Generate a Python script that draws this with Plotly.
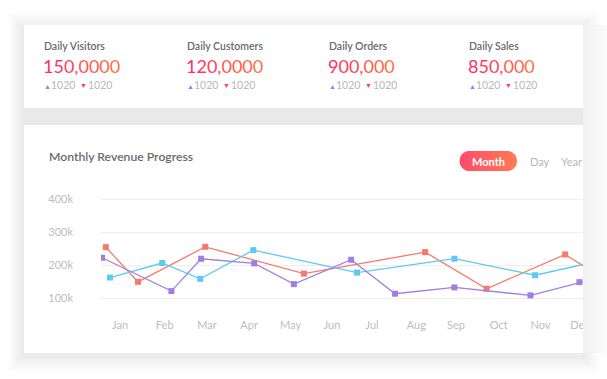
import math
import plotly.graph_objects as go

W, H = 607, 379

# ---------------- data ----------------
months = ["Jan", "Feb", "Mar", "Apr", "May", "Jun", "Jul", "Aug", "Sep", "Oct", "Nov", "Dec"]
month_pos = [0, 1.07, 2.08, 3.09, 4.08, 5.07, 6.03, 7.09, 8.04, 9.06, 10.06, 11.0]

red_x = [-0.34, 0.43, 2.04, 4.40, 7.30, 8.77, 10.65, 11.2]
red_y = [254, 149, 255, 174, 239, 128, 232, 188]
blue_x = [-0.24, 1.01, 1.92, 3.19, 5.67, 8.00, 9.93, 11.2]
blue_y = [162, 206, 158, 245, 177, 219, 169, 205]
purple_x = [-0.43, 1.23, 1.94, 3.21, 4.16, 5.53, 6.58, 8.00, 9.82, 10.99, 11.2]
purple_y = [222, 121, 219, 205, 142, 216, 113, 132, 108, 148, 153]

y_ticks = [100, 200, 300, 400]
y_tick_text = ["100k", "200k", "300k", "400k"]

stat_titles = ["Daily Visitors", "Daily Customers", "Daily Orders", "Daily Sales"]
stat_values = ["150,0000", "120,0000", "900,000", "850,000"]
stat_up = ["1020", "1020", "1020", "1020"]
stat_down = ["1020", "1020", "1020", "1020"]
chart_title = "Monthly Revenue Progress"
periods = ["Month", "Day", "Year"]

# ---------------- geometry ----------------
FONT = "Lato, 'Open Sans', sans-serif"
ML, MR, MT, MB = 101, 24, 192, 64
PW, PH = W - ML - MR, H - MT - MB
CL, CR = 24, 583


def fx(px):
    return (px - ML) / PW


def fy(py):
    return (H - MB - py) / PH


def lerp_color(c1, c2, t):
    a = [int(c1[i:i + 2], 16) for i in (1, 3, 5)]
    b = [int(c2[i:i + 2], 16) for i in (1, 3, 5)]
    return "#%02x%02x%02x" % tuple(round(a[k] + (b[k] - a[k]) * t) for k in range(3))


def grad_text(s, c1, c2):
    n = max(len(s) - 1, 1)
    return "".join('<span style="color:%s">%s</span>' % (lerp_color(c1, c2, i / n), ch)
                   for i, ch in enumerate(s))


shapes = []
annotations = []


def rect(x0, y0, x1, y1, color, layer="below"):
    shapes.append(dict(type="rect", xref="paper", yref="paper",
                       x0=fx(x0), x1=fx(x1), y0=fy(y1), y1=fy(y0),
                       fillcolor=color, line=dict(width=0), layer=layer))


def text(px, py, s, size, color, anchor="left", weight="normal"):
    annotations.append(dict(xref="paper", yref="paper", x=fx(px), y=fy(py),
                            text=s, showarrow=False, xanchor=anchor, yanchor="middle",
                            borderpad=0,
                            font=dict(family=FONT, size=size, color=color, weight=weight)))


# ---------------- cards & shadows ----------------
for i in range(1, 11):
    d = 1.6 * i
    rect(CL - d, 25 - d + 3, CR + d, 353 + d + 3, "rgba(0,0,0,0.006)")
rect(CL, 25, CR, 108, "#ffffff")
rect(CL, 108, CR, 125, "#e9e9e9")
rect(CL, 125, CR, 353, "#ffffff")

# right-hand fade (card clipped by the view)
strip = ["#f1f1f1", "#f3f3f3", "#f5f5f5", "#f7f7f7", "#f9f9f9", "#fbfbfb"]
for i, c in enumerate(strip):
    rect(CR + 4 * i, 25, CR + 4 * (i + 1), 353, c, layer="above")

# ---------------- stat header ----------------
col_x = [43, 186, 328, 468]
for cx, t, v, up, dn in zip(col_x, stat_titles, stat_values, stat_up, stat_down):
    text(cx, 46, t, 10.5, "#6a6a6a", weight=600)
    text(cx - 1, 66, grad_text(v, "#ff2f66", "#ff7043"), 18, "#ff4a5a")
    text(cx - 0.5, 86, "▲", 7, "#9c7be6")
    text(cx + 7, 85, up, 10.5, "#b8b8b8")
    text(cx + 35.5, 85, "▼", 7, "#ff3d6a")
    text(cx + 43.5, 85, dn, 10.5, "#b8b8b8")

# ---------------- chart header ----------------
text(48, 156, chart_title, 12.2, "#6a6a6a", weight=600)

# gradient pill for "Month"
px0, px1, py0, py1 = 459.5, 517.0, 151.0, 171.0
r = (py1 - py0) / 2
cy = (py0 + py1) / 2
c1x, c2x = px0 + r, px1 - r


def half_h(x):
    if x < c1x:
        return math.sqrt(max(r * r - (x - c1x) ** 2, 0))
    if x > c2x:
        return math.sqrt(max(r * r - (x - c2x) ** 2, 0))
    return r


N = 24
sw = (px1 - px0) / N
for i in range(N):
    xa = px0 + i * sw
    xb = min(px0 + (i + 1) * sw + 0.6, px1)
    xs = [xa + (xb - xa) * k / 6 for k in range(7)]
    top = [(x, cy - half_h(x)) for x in xs]
    bot = [(x, cy + half_h(x)) for x in reversed(xs)]
    pts = top + bot
    path = "M " + " L ".join("%.5f,%.5f" % (fx(x), fy(y)) for x, y in pts) + " Z"
    shapes.append(dict(type="path", xref="paper", yref="paper", path=path,
                       fillcolor=lerp_color("#ff4a6c", "#ff7a52", i / (N - 1)),
                       line=dict(width=0), layer="below"))

text(488, 161, periods[0], 11, "#ffffff", anchor="center", weight="bold")
text(539.5, 161, periods[1], 11, "#b8b8b8", anchor="center")
text(571, 161, periods[2], 11, "#b8b8b8", anchor="center")

# ---------------- chart ----------------
fig = go.Figure()
series = [
    (red_x, red_y, "#f7796c"),
    (blue_x, blue_y, "#5ccbf4"),
    (purple_x, purple_y, "#a07fe2"),
]
for xs, ys, col in series:
    fig.add_trace(go.Scatter(
        x=xs, y=ys, mode="lines+markers",
        line=dict(color=col, width=1.3),
        marker=dict(symbol="square", size=6, color=col),
        cliponaxis=True, hoverinfo="skip", showlegend=False))

fig.update_layout(
    width=W, height=H,
    margin=dict(l=ML, r=MR, t=MT, b=MB, pad=0, autoexpand=False),
    paper_bgcolor="#ffffff",
    plot_bgcolor="rgba(0,0,0,0)",
    font=dict(family=FONT),
    shapes=shapes,
    annotations=annotations,
    showlegend=False,
    xaxis=dict(range=[(101 - 120) / 41.8, (CR - 120) / 41.8],
               tickvals=month_pos, ticktext=months,
               showgrid=False, zeroline=False, showline=False, ticks="",
               tickfont=dict(family=FONT, size=11, color="#bdbdbd"),
               ticklabelstandoff=2, fixedrange=True, automargin=False),
    yaxis=dict(range=[48.5, 421.2], tickvals=y_ticks, ticktext=y_tick_text,
               showgrid=True, gridcolor="#eeeeee", gridwidth=1,
               zeroline=False, showline=False, ticks="",
               tickfont=dict(family=FONT, size=11, color="#bdbdbd"),
               ticklabelstandoff=27, fixedrange=True, automargin=False),
)

fig.write_html("out.html", config={"displayModeBar": False},
               post_script="document.body.style.margin='0';document.body.style.overflow='hidden';")
